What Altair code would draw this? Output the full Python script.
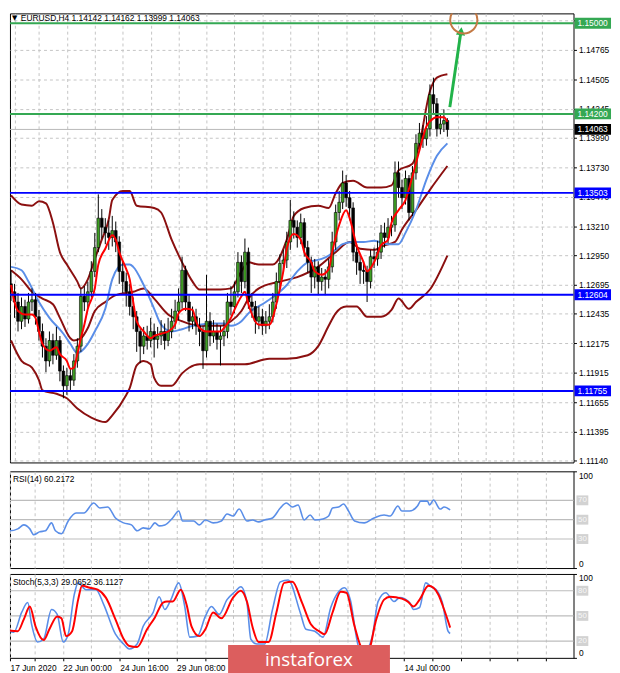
import altair as alt
import pandas as pd

# ---------------- data ----------------
title_text = "EURUSD,H4  1.14142 1.14162 1.13999 1.14063"
rsi_title = "RSI(14) 60.2172"
stoch_title = "Stoch(5,3,3) 29.0652 36.1127"

first_open = 1.1270
close = [
    1.1263, 1.1254, 1.1237, 1.1250, 1.1239, 1.1254, 1.1256, 1.1241, 1.1228, 1.1215,
    1.1202, 1.1220, 1.1207, 1.1220, 1.1193, 1.1180, 1.1189, 1.1185, 1.1202, 1.1215,
    1.1259, 1.1254, 1.1263, 1.1281, 1.1302, 1.1328, 1.1320, 1.1315, 1.1311, 1.1317,
    1.1307, 1.1281, 1.1272, 1.1263, 1.1250, 1.1241, 1.1228, 1.1215, 1.1224, 1.1220,
    1.1228, 1.1221, 1.1224, 1.1228, 1.1220, 1.1228, 1.1237, 1.1246, 1.1254, 1.1282,
    1.1254, 1.1237, 1.1241, 1.1233, 1.1228, 1.1211, 1.1237, 1.1224, 1.1228, 1.1221,
    1.1224, 1.1228, 1.1254, 1.1250, 1.1263, 1.1289, 1.1272, 1.1298, 1.1254, 1.1250,
    1.1237, 1.1241, 1.1233, 1.1237, 1.1241, 1.1254, 1.1272, 1.1288, 1.1291, 1.1307,
    1.1326, 1.1320, 1.1311, 1.1324, 1.1302, 1.1289, 1.1276, 1.1285, 1.1272, 1.1276,
    1.1274, 1.1285, 1.1307, 1.1333, 1.1342, 1.1359, 1.1346, 1.1337, 1.1298, 1.1289,
    1.1282, 1.1281, 1.1272, 1.1294, 1.1292, 1.1298, 1.1315, 1.1311, 1.1320, 1.1322,
    1.1368, 1.1355, 1.1346, 1.1363, 1.1333, 1.1368, 1.1394, 1.1403, 1.1398, 1.1407,
    1.1437, 1.1429, 1.1407, 1.1411, 1.14142, 1.14063]
high = [
    1.1282, 1.1270, 1.1262, 1.1258, 1.1256, 1.1262, 1.1266, 1.1262, 1.1247, 1.1235,
    1.1222, 1.1228, 1.1226, 1.1232, 1.1224, 1.1198, 1.1196, 1.1195, 1.1208, 1.1222,
    1.1266, 1.1268, 1.1272, 1.1290, 1.1315, 1.1349, 1.1336, 1.1328, 1.1326, 1.1330,
    1.1325, 1.1312, 1.1290, 1.1280, 1.1270, 1.1258, 1.1246, 1.1232, 1.1232, 1.1233,
    1.1240, 1.1235, 1.1232, 1.1238, 1.1235, 1.1240, 1.1248, 1.1256, 1.1266, 1.1294,
    1.1286, 1.1260, 1.1250, 1.1248, 1.1240, 1.1233, 1.1278, 1.1245, 1.1238, 1.1235,
    1.1233, 1.1238, 1.1262, 1.1268, 1.1272, 1.1298, 1.1295, 1.1310, 1.1302, 1.1262,
    1.1255, 1.1250, 1.1248, 1.1246, 1.1252, 1.1262, 1.1280, 1.1296, 1.1300, 1.1316,
    1.1344, 1.1334, 1.1326, 1.1332, 1.1328, 1.1308, 1.1294, 1.1292, 1.1290, 1.1284,
    1.1283, 1.1292, 1.1316, 1.1340, 1.1352, 1.1370, 1.1366, 1.1352, 1.1342, 1.1305,
    1.1296, 1.1290, 1.1286, 1.1300, 1.1302, 1.1308, 1.1322, 1.1324, 1.1328, 1.1330,
    1.1378, 1.1378, 1.1362, 1.1370, 1.1366, 1.1374, 1.1402, 1.1412, 1.1410, 1.1418,
    1.1446, 1.1452, 1.1434, 1.1420, 1.1424, 1.14162]
low = [
    1.1255, 1.1240, 1.1228, 1.1230, 1.1232, 1.1235, 1.1246, 1.1234, 1.1220, 1.1205,
    1.1192, 1.1197, 1.1199, 1.1203, 1.1184, 1.1169, 1.1172, 1.1176, 1.1180, 1.1196,
    1.1210, 1.1246, 1.1248, 1.1258, 1.1276, 1.1298, 1.1310, 1.1305, 1.1300, 1.1303,
    1.1298, 1.1270, 1.1262, 1.1250, 1.1242, 1.1230, 1.1210, 1.1200, 1.1208, 1.1212,
    1.1214, 1.1205, 1.1213, 1.1216, 1.1212, 1.1215, 1.1222, 1.1230, 1.1238, 1.1248,
    1.1246, 1.1228, 1.1230, 1.1225, 1.1215, 1.1195, 1.1205, 1.1215, 1.1218, 1.1212,
    1.1198, 1.1215, 1.1222, 1.1242, 1.1244, 1.1258, 1.1262, 1.1266, 1.1248, 1.1240,
    1.1226, 1.1230, 1.1225, 1.1226, 1.1230, 1.1236, 1.1248, 1.1266, 1.1280, 1.1284,
    1.1300, 1.1310, 1.1302, 1.1305, 1.1294, 1.1280, 1.1262, 1.1266, 1.1260, 1.1264,
    1.1260, 1.1266, 1.1280, 1.1300, 1.1326, 1.1336, 1.1338, 1.1326, 1.1290, 1.1278,
    1.1270, 1.1270, 1.1254, 1.1266, 1.1284, 1.1286, 1.1292, 1.1302, 1.1306, 1.1312,
    1.1316, 1.1346, 1.1336, 1.1340, 1.1326, 1.1330, 1.1362, 1.1388, 1.1390, 1.1392,
    1.1400, 1.1420, 1.1400, 1.1402, 1.1404, 1.13999]

red_idx = [0, 1, 2, 4, 6, 7, 8, 9, 11, 13, 14, 16, 17, 18, 19, 20, 21, 22, 24, 25,
           27, 29, 30, 31, 33, 34, 35, 36, 38, 40, 41, 43, 45, 47, 48, 50, 52, 53, 54, 56,
           58, 60, 61, 63, 64, 66, 67, 68, 71, 74, 76, 78, 79, 81, 83, 84, 86, 87, 89, 91,
           92, 94, 96, 97, 99, 101, 102, 104, 106, 108, 109, 111, 113, 115, 117, 119, 121, 122, 124, 125]
red_val = [1.1269, 1.1254, 1.1246, 1.1243, 1.1243, 1.1240, 1.1228, 1.1217, 1.1211, 1.1214,
           1.1208, 1.1202, 1.1195, 1.1196, 1.1208, 1.1222, 1.1234, 1.1248, 1.1266, 1.1287,
           1.1301, 1.1313, 1.1309, 1.1298, 1.1283, 1.1274, 1.1254, 1.1237, 1.1228, 1.1222,
           1.1224, 1.1226, 1.1228, 1.1234, 1.1244, 1.1248, 1.1247, 1.1237, 1.1231, 1.1228,
           1.1228, 1.1228, 1.1231, 1.1240, 1.1247, 1.1259, 1.1263, 1.1252, 1.1234, 1.1234,
           1.1252, 1.1281, 1.1301, 1.1314, 1.1309, 1.1298, 1.1289, 1.1281, 1.1278, 1.1283,
           1.1298, 1.1322, 1.1335, 1.1328, 1.1304, 1.1289, 1.1281, 1.1289, 1.1304, 1.1309,
           1.1324, 1.1335, 1.1344, 1.1365, 1.1388, 1.1409, 1.1416, 1.1417, 1.1417, 1.1413]

blue_idx = [0, 3, 5, 8, 11, 15, 17, 19, 22, 24, 27, 29, 32, 34, 35, 38, 41, 43, 46, 49,
            52, 54, 58, 61, 63, 66, 68, 73, 77, 79, 82, 85, 89, 91, 95, 98, 101, 104, 108, 111,
            113, 116, 119, 122, 125]
blue_val = [1.1285, 1.1282, 1.1272, 1.1254, 1.1240, 1.1226, 1.1217, 1.1209, 1.1217, 1.1228,
            1.1248, 1.1274, 1.1287, 1.1287, 1.1285, 1.1269, 1.1248, 1.1234, 1.1228, 1.1230,
            1.1233, 1.1234, 1.1235, 1.1235, 1.1233, 1.1237, 1.1244, 1.1254, 1.1263, 1.1269,
            1.1281, 1.1289, 1.1292, 1.1295, 1.1305, 1.1307, 1.1307, 1.1308, 1.1305, 1.1305,
            1.1315, 1.1335, 1.1362, 1.1383, 1.1394]

band_up_idx = [0, 3, 6, 8, 10, 12, 14, 16, 19, 20, 22, 24, 26, 28, 29, 32, 34, 36, 41, 43,
               46, 49, 52, 54, 60, 63, 66, 68, 71, 75, 79, 81, 84, 88, 91, 93, 95, 98, 102, 106,
               109, 111, 115, 117, 120, 122, 125]
band_up = [1.1348, 1.1340, 1.1339, 1.1343, 1.1341, 1.1324, 1.1298, 1.1287, 1.1272, 1.1266,
           1.1274, 1.1292, 1.1309, 1.1327, 1.1344, 1.1352, 1.1352, 1.1339, 1.1337, 1.1333,
           1.1309, 1.1289, 1.1272, 1.1265, 1.1265, 1.1266, 1.1281, 1.1289, 1.1287, 1.1287,
           1.1309, 1.1330, 1.1337, 1.1339, 1.1337, 1.1350, 1.1359, 1.1361, 1.1355, 1.1355,
           1.1357, 1.1370, 1.1376, 1.1394, 1.1440, 1.1452, 1.1455]

band_mid_idx = [0, 3, 6, 9, 12, 14, 17, 18, 20, 22, 24, 27, 30, 35, 38, 41, 45, 49, 54, 60,
                63, 66, 68, 71, 77, 82, 88, 93, 97, 100, 104, 107, 110, 112, 116, 120, 125]
band_mid = [1.1282, 1.1274, 1.1263, 1.1257, 1.1252, 1.1240, 1.1222, 1.1220, 1.1222, 1.1231,
            1.1246, 1.1254, 1.1260, 1.1263, 1.1266, 1.1257, 1.1243, 1.1237, 1.1233, 1.1233,
            1.1237, 1.1246, 1.1257, 1.1266, 1.1272, 1.1276, 1.1285, 1.1298, 1.1307, 1.1301,
            1.1300, 1.1304, 1.1307, 1.1318, 1.1335, 1.1353, 1.1374]

band_low_idx = [0, 3, 6, 8, 9, 13, 16, 19, 23, 27, 29, 33, 34, 36, 38, 40, 41, 43, 46, 49,
                51, 54, 60, 67, 74, 79, 85, 88, 91, 93, 96, 99, 102, 106, 109, 111, 114, 116, 120, 125]
band_low = [1.1220, 1.1202, 1.1196, 1.1185, 1.1176, 1.1173, 1.1169, 1.1160, 1.1152, 1.1148,
            1.1154, 1.1172, 1.1178, 1.1198, 1.1202, 1.1199, 1.1187, 1.1180, 1.1180, 1.1191,
            1.1196, 1.1199, 1.1199, 1.1199, 1.1204, 1.1204, 1.1207, 1.1215, 1.1233, 1.1244,
            1.1250, 1.1250, 1.1241, 1.1241, 1.1247, 1.1257, 1.1248, 1.1254, 1.1265, 1.1295]

rsi_idx = [0, 1.1, 3.3, 5.0, 6.7, 7.8, 9.4, 11.1, 12.8, 13.9, 15.6, 17.5, 19.7, 21.9, 24.7,
           26.4, 28.6, 30.8, 33.1, 35.3, 36.9, 38.6, 40.3, 41.9, 43.1, 44.7, 46.9, 48.6, 49.7,
           52.8, 54.4, 56.1, 58.3, 60.6, 62.2, 63.9, 65.6, 67.8, 69.4, 71.1, 72.8, 75.0, 77.2,
           78.9, 80.6, 82.2, 83.9, 85.6, 86.9, 89.2, 90.8, 91.9, 93.6, 95.0, 96.4, 98.1, 100.8,
           103.6, 106.4, 108.1, 110.3, 111.4, 113.6, 115.8, 116.7, 118.6, 119.2, 120.3, 122.2,
           123.3, 125.0]
rsi_val = [42.6, 38.5, 40.5, 44.6, 40.5, 34.4, 37.4, 38.5, 46.7, 38.5, 35.4, 48.7, 56.9, 56.9,
           67.2, 62.1, 63.1, 51.8, 46.7, 44.6, 38.5, 41.5, 40.5, 46.7, 43.6, 44.6, 51.8, 59.0,
           48.7, 48.7, 44.6, 49.7, 46.7, 48.7, 55.9, 53.8, 61.0, 48.7, 49.7, 47.7, 49.7, 51.8,
           62.1, 67.2, 63.1, 65.1, 49.7, 54.9, 49.7, 50.8, 53.8, 62.1, 63.1, 66.2, 59.0, 48.7,
           46.7, 51.8, 54.9, 53.8, 64.1, 59.0, 59.0, 64.1, 69.2, 69.2, 65.1, 70.3, 61.0, 63.1, 60.2]

stoch_main_idx = [0, 2.2, 4.4, 6.1, 7.2, 8.9, 10.6, 12.8, 14.4, 16.1, 17.5, 19.2, 20.3, 22.5,
                  25.3, 27.5, 30.8, 33.1, 34.7, 36.9, 38.6, 41.4, 43.1, 44.7, 46.4, 48.6, 50.3,
                  51.7, 53.9, 56.1, 57.8, 60.0, 62.2, 64.4, 66.1, 67.8, 68.9, 70.6, 72.8, 75.0,
                  77.2, 79.4, 82.8, 84.4, 86.9, 89.2, 91.4, 93.6, 95.3, 96.9, 99.2, 100.8, 103.1,
                  104.7, 106.9, 109.2, 110.8, 113.6, 114.7, 116.4, 118.1, 119.7, 121.1, 122.8,
                  124.4, 125.0]
stoch_main = [34.1, 30.6, 54.1, 65.9, 40.0, 18.8, 22.4, 57.6, 51.8, 18.8, 28.2, 75.3, 89.4, 81.2,
              81.2, 63.5, 28.2, 16.5, 10.6, 16.5, 37.6, 54.1, 72.9, 57.6, 69.4, 89.4, 61.2, 24.7,
              25.9, 49.4, 61.2, 51.8, 69.4, 78.8, 84.7, 65.9, 22.4, 16.5, 16.5, 57.6, 90.6, 92.9,
              54.1, 34.1, 31.8, 24.7, 60.0, 78.8, 83.5, 69.4, 14.1, 7.1, 25.9, 67.1, 77.6, 67.1,
              71.8, 65.9, 57.6, 60.0, 89.4, 84.7, 81.2, 65.9, 31.8, 29.1]

stoch_sig_idx = [0, 3.3, 5.0, 6.7, 8.3, 10.6, 12.2, 14.4, 15.6, 16.9, 18.6, 20.3, 21.4, 23.6,
                 25.8, 28.1, 30.8, 33.1, 34.7, 36.9, 39.7, 41.9, 44.2, 45.3, 46.9, 49.2, 50.8,
                 52.2, 54.4, 56.1, 58.3, 60.6, 63.9, 66.1, 67.8, 69.4, 71.1, 73.9, 76.1, 78.3,
                 80.6, 83.3, 85.8, 88.1, 89.7, 91.9, 94.2, 95.8, 98.1, 100.3, 101.9, 104.2, 106.4,
                 108.1, 111.4, 113.1, 114.7, 116.4, 118.9, 120.3, 121.7, 123.3, 125.0]
stoch_sig = [32.9, 31.8, 45.9, 61.2, 37.6, 21.2, 34.1, 49.4, 47.1, 25.9, 31.8, 69.4, 85.9, 83.5,
             81.2, 71.8, 45.9, 22.4, 14.1, 12.9, 34.1, 48.2, 65.9, 67.1, 67.1, 81.2, 63.5, 37.6,
             25.9, 34.1, 54.1, 47.1, 71.8, 80.0, 67.1, 36.5, 18.8, 18.8, 54.1, 89.4, 90.6, 65.9,
             40.0, 31.8, 28.2, 54.1, 78.8, 77.6, 37.6, 10.6, 8.2, 45.9, 69.4, 72.9, 70.6, 67.1,
             61.2, 69.4, 85.9, 83.5, 75.3, 57.6, 36.1]

price_ticks = [1.11140, 1.11395, 1.11655, 1.11915, 1.12175, 1.12435, 1.12695, 1.12950,
               1.13210, 1.13470, 1.13730, 1.13990, 1.14245, 1.14505, 1.14765, 1.15025]
green_levels = [1.15000, 1.14200]
blue_levels = [1.13503, 1.12604, 1.11755]
last_price = 1.14063

tag_prices = [1.15000, 1.14200, 1.14063, 1.13503, 1.12604, 1.11755]
tag_texts = ["1.15000", "1.14200", "1.14063", "1.13503", "1.12604", "1.11755"]
tag_bg = ["#34a853", "#34a853", "#000000", "#0000ff", "#0000ff", "#0000ff"]

osc_levels_rsi = [30, 50, 70]
osc_levels_stoch = [20, 50, 80]

arrow_idx = [125.7, 128.9]
arrow_price = [1.1426, 1.1493]
target_idx = [129.7]
target_price = [1.15030]

first_visible = 1.12
date_ticks = [first_visible, 16, 32, 48, 64, 80, 96, 112]
date_labels = ["17 Jun 2020", "22 Jun 00:00", "24 Jun 16:00", "29 Jun 08:00",
               "2 Jul 00:00", "6 Jul 16:00", "9 Jul 08:00", "14 Jul 00:00"]

# ---------------- styling ----------------
FONT = "Liberation Sans"
FS = 8.5
W = 571
H_MAIN, H_RSI, H_ST = 455, 98, 85
GRID = "#c4c4c4"
BROWN = "#8b1010"
BLUE_MA = "#5a8ee8"

xsc = alt.Scale(domain=[1.11, 159.72], nice=False, zero=False)
grid_vals = [first_visible] + list(range(8, 160, 8))

x_axis_plain = alt.Axis(values=grid_vals, labels=False, ticks=False, domain=False, grid=True,
                        gridDash=[3, 3], gridColor=GRID, title=None, zindex=0)
label_expr = "".join(f"abs(datum.value - {t}) < 0.01 ? '{lab}' : " for t, lab in zip(date_ticks, date_labels)) + "''"
x_axis_dates = alt.Axis(values=grid_vals, labelExpr=label_expr, labelAlign="left", labelPadding=3,
                        ticks=True, tickSize=3, tickColor="#000", domain=False, grid=True,
                        gridDash=[3, 3], gridColor=GRID, title=None, labelFont=FONT,
                        labelFontSize=FS, labelColor="#000", labelOverlap=False, labelBound=False,
                        labelFlush=False, zindex=0)

ysc_main = alt.Scale(domain=[1.11124, 1.15087], nice=False, zero=False)
y_axis_main = alt.Axis(orient="right", values=price_ticks, format=".5f", grid=True, gridDash=[3, 3],
                       gridColor=GRID, domain=False, ticks=True, tickSize=3, tickColor="#000",
                       labelPadding=2, labelFont=FONT, labelFontSize=FS, labelColor="#000",
                       labelOverlap=False, labelBound=False, labelFlush=False, title=None, zindex=0)


def xm(field="i", axis=x_axis_plain):
    return alt.X(f"{field}:Q", scale=xsc, axis=axis)


def ym(field="v"):
    return alt.Y(f"{field}:Q", scale=ysc_main, axis=y_axis_main)


def line_df(xs, ys):
    return pd.DataFrame({"i": xs, "v": ys})


# ---------------- main panel ----------------
opens = [first_open] + close[:-1]
cdf = pd.DataFrame({"i": list(range(len(close))), "o": opens, "c": close, "h": high, "l": low})
cdf["dir"] = ["up" if c >= o else "down" for o, c in zip(cdf.o, cdf.c)]

layers = []
layers.append(alt.Chart(pd.DataFrame({"v": [last_price]})).mark_rule(color="#b8b8b8", strokeWidth=1)
              .encode(y=ym()))
for xs, ys in [(band_up_idx, band_up), (band_mid_idx, band_mid), (band_low_idx, band_low)]:
    layers.append(alt.Chart(line_df(xs, ys)).mark_line(color=BROWN, strokeWidth=2, interpolate="monotone", clip=True)
                  .encode(x=xm(), y=ym()))
layers.append(alt.Chart(line_df(blue_idx, blue_val)).mark_line(color=BLUE_MA, strokeWidth=2, interpolate="monotone", clip=True)
              .encode(x=xm(), y=ym()))
layers.append(alt.Chart(cdf).mark_rule(color="#000000", strokeWidth=1, clip=True)
              .encode(x=xm(), y=ym("l"), y2="h:Q"))
layers.append(alt.Chart(cdf).mark_bar(size=2.8, stroke="#000000", strokeWidth=0.6, clip=True)
              .encode(x=xm(), y=ym("o"), y2="c:Q",
                      color=alt.Color("dir:N", scale=alt.Scale(domain=["up", "down"], range=["#3f9f24", "#000000"]),
                                      legend=None)))
layers.append(alt.Chart(line_df(red_idx, red_val)).mark_line(color="#ff0000", strokeWidth=2, interpolate="monotone", clip=True)
              .encode(x=xm(), y=ym()))
layers.append(alt.Chart(pd.DataFrame({"v": green_levels})).mark_rule(color="#34a853", strokeWidth=2)
              .encode(y=ym()))
layers.append(alt.Chart(pd.DataFrame({"v": blue_levels})).mark_rule(color="#0000ff", strokeWidth=2)
              .encode(y=ym()))
# forecast arrow and target circle
layers.append(alt.Chart(line_df(arrow_idx, arrow_price)).mark_line(color="#22b34a", strokeWidth=3, clip=True)
              .encode(x=xm(), y=ym()))
layers.append(alt.Chart(line_df(arrow_idx[-1:], arrow_price[-1:])).mark_point(
    shape="triangle-up", size=90, filled=True, color="#22b34a", opacity=1, angle=8, clip=True)
    .encode(x=xm(), y=ym()))
layers.append(alt.Chart(line_df(target_idx, target_price)).mark_point(
    shape="circle", size=760, filled=False, color="#c47a45", strokeWidth=2, opacity=1, clip=True)
    .encode(x=xm(), y=ym()))
# price tags on the axis
tag_df = pd.DataFrame({"v": tag_prices, "t": tag_texts, "bg": tag_bg})
layers.append(alt.Chart(tag_df).mark_tick(orient="horizontal", size=37, thickness=11, opacity=1)
              .encode(x=alt.value(590.5), y=ym(), color=alt.Color("bg:N", scale=None)))
layers.append(alt.Chart(tag_df).mark_text(align="left", baseline="middle", font=FONT, fontSize=FS, color="#ffffff")
              .encode(x=alt.value(575), y=ym(), text="t:N"))
# title
layers.append(alt.Chart(pd.DataFrame({"t": ["\u25bc"]})).mark_text(
    align="left", baseline="middle", font="DejaVu Sans", fontSize=7, color="#000")
    .encode(x=alt.value(2), y=alt.value(5), text="t:N"))
layers.append(alt.Chart(pd.DataFrame({"t": [title_text]})).mark_text(
    align="left", baseline="middle", font=FONT, fontSize=FS, color="#000")
    .encode(x=alt.value(11), y=alt.value(5), text="t:N"))

main = alt.layer(*layers).properties(width=W, height=H_MAIN)


# ---------------- oscillator panels ----------------
def osc_panel(levels, series, title, x_axis):
    ysc = alt.Scale(domain=[0, 100], nice=False, zero=False)
    yax = alt.Axis(orient="right", values=[0, 100], grid=False, domain=False, ticks=True, tickSize=3,
                   tickColor="#000", labelPadding=2, labelFont=FONT, labelFontSize=FS, labelColor="#000",
                   labelFlush=True, labelOverlap=False, title=None, zindex=0)
    yv = alt.Y("v:Q", scale=ysc, axis=yax)
    ls = []
    ls.append(alt.Chart(pd.DataFrame({"v": levels})).mark_rule(color="#bdbdbd", strokeWidth=1.2)
              .encode(y=yv))
    for xs, ys, col, sw in series:
        ls.append(alt.Chart(line_df(xs, ys)).mark_line(color=col, strokeWidth=sw, interpolate="monotone", clip=True)
                  .encode(x=alt.X("i:Q", scale=xsc, axis=x_axis), y=yv))
    lv = pd.DataFrame({"v": levels, "t": [str(l) for l in levels]})
    ls.append(alt.Chart(lv).mark_tick(orient="horizontal", size=12, thickness=10, color="#d2d2d2", opacity=1)
              .encode(x=alt.value(580), y=yv))
    ls.append(alt.Chart(lv).mark_text(align="center", baseline="middle", font=FONT, fontSize=FS - 0.5,
                                      color="#f8f8f8")
              .encode(x=alt.value(580), y=yv, text="t:N"))
    ls.append(alt.Chart(pd.DataFrame({"t": [title]})).mark_text(
        align="left", baseline="middle", font=FONT, fontSize=FS, color="#000")
        .encode(x=alt.value(3), y=alt.value(8), text="t:N"))
    return ls


rsi_layers = osc_panel(osc_levels_rsi, [(rsi_idx, rsi_val, BLUE_MA, 1.6)], rsi_title, x_axis_plain)
rsi = alt.layer(*rsi_layers).properties(width=W, height=H_RSI)

st_layers = osc_panel(osc_levels_stoch,
                      [(stoch_main_idx, stoch_main, BLUE_MA, 1.6), (stoch_sig_idx, stoch_sig, "#ff0000", 2)],
                      stoch_title, x_axis_dates)
# watermark
st_layers.append(alt.Chart(pd.DataFrame({"t": ["instaforex"]})).mark_rect(color="#dc5e5e", opacity=1)
                 .encode(x=alt.value(221), x2=alt.value(385), y=alt.value(72), y2=alt.value(104)))
st_layers.append(alt.Chart(pd.DataFrame({"t": ["instaforex"]})).mark_text(
    align="center", baseline="middle", font="Open Sans", fontSize=19, color="#ffffff")
    .encode(x=alt.value(303), y=alt.value(87), text="t:N"))
stoch = alt.layer(*st_layers).properties(width=W, height=H_ST)

chart = (alt.vconcat(main, rsi, stoch, spacing=4)
         .properties(background="#ffffff", padding=0)
         .configure_view(stroke="#000000", strokeWidth=1))

chart.save("out.html", embed_options={"renderer": "svg", "actions": False})
